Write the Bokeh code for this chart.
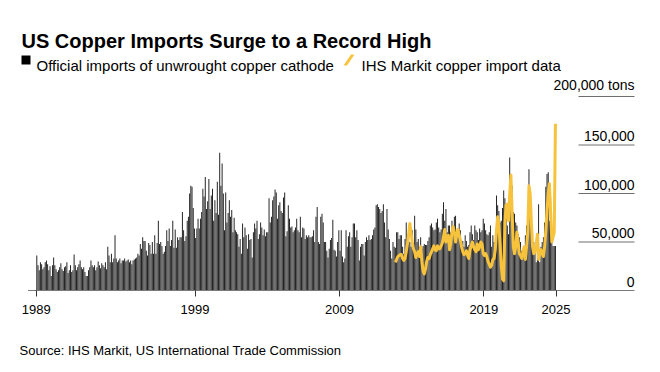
from bokeh.plotting import figure
from bokeh.models import Label, BoxAnnotation, PolyAnnotation, FixedTicker, Range1d, ColumnDataSource
from bokeh.embed import file_html
from bokeh.resources import INLINE

# ---------------- data (thousand tons, monthly) ----------------
official_1989 = [36, 26, 21, 29, 27, 22, 24, 29, 31, 27, 21, 25]
official_1990 = [15, 26, 34, 26, 22, 19, 21, 24, 28, 22, 20, 24]
official_1991 = [25, 29, 18, 21, 26, 19, 21, 37, 26, 21, 24, 27]
official_1992 = [31, 24, 22, 24, 19, 15, 15, 21, 24, 31, 26, 24]
official_1993 = [26, 21, 24, 30, 26, 23, 28, 26, 24, 29, 22, 45]
official_1994 = [36, 29, 38, 29, 33, 57, 33, 29, 31, 33, 28, 31]
official_1995 = [31, 33, 30, 31, 32, 29, 31, 27, 31, 32, 33, 34]
official_1996 = [38, 36, 48, 43, 55, 51, 51, 41, 36, 49, 47, 38]
official_1997 = [50, 38, 57, 38, 49, 72, 48, 50, 46, 38, 40, 46]
official_1998 = [62, 51, 64, 46, 52, 72, 44, 63, 44, 55, 52, 55]
official_1999 = [55, 81, 62, 51, 56, 72, 76, 100, 108, 107, 85, 64]
official_2000 = [54, 64, 74, 64, 74, 81, 105, 97, 117, 84, 92, 115]
official_2001 = [84, 98, 105, 72, 93, 80, 112, 78, 142, 108, 131, 100]
official_2002 = [62, 101, 70, 80, 93, 76, 83, 60, 75, 62, 60, 58]
official_2003 = [45, 53, 38, 69, 55, 65, 57, 43, 58, 52, 53, 34]
official_2004 = [60, 69, 64, 72, 53, 58, 70, 65, 57, 63, 56, 60]
official_2005 = [60, 95, 70, 76, 93, 97, 104, 101, 74, 88, 91, 82]
official_2006 = [80, 96, 101, 56, 61, 88, 74, 65, 66, 60, 62, 65]
official_2007 = [74, 62, 60, 76, 55, 65, 64, 53, 57, 55, 57, 55]
official_2008 = [55, 56, 62, 50, 76, 86, 50, 48, 76, 79, 70, 50]
official_2009 = [50, 41, 34, 43, 52, 54, 73, 42, 41, 35, 50, 62]
official_2010 = [41, 62, 35, 29, 33, 62, 45, 56, 60, 45, 55, 69]
official_2011 = [69, 55, 62, 52, 31, 45, 48, 48, 36, 50, 55, 52]
official_2012 = [57, 52, 53, 57, 63, 65, 88, 89, 86, 84, 80, 82]
official_2013 = [89, 70, 55, 84, 63, 53, 41, 33, 50, 45, 44, 60]
official_2014 = [60, 53, 57, 57, 45, 38, 53, 70, 45, 62, 50, 45]
official_2015 = [62, 45, 77, 63, 50, 53, 45, 55, 43, 46, 48, 47]
official_2016 = [47, 51, 55, 67, 69, 65, 62, 63, 70, 74, 65, 60]
official_2017 = [63, 79, 91, 72, 84, 60, 67, 67, 60, 72, 60, 76]
official_2018 = [77, 55, 60, 69, 62, 52, 51, 45, 57, 51, 45, 47]
official_2019 = [60, 67, 58, 52, 67, 62, 60, 52, 64, 60, 62, 74]
official_2020 = [69, 62, 58, 57, 60, 67, 45, 57, 50, 46, 98, 88]
official_2021 = [82, 70, 72, 85, 103, 95, 89, 67, 58, 137, 120, 108]
official_2022 = [81, 79, 70, 67, 58, 55, 50, 41, 38, 45, 57, 67]
official_2023 = [67, 125, 86, 74, 60, 50, 41, 29, 45, 89, 29, 45]
official_2024 = [50, 55, 70, 107, 120, 122, 72, 96, 50, 46, 46, 46]

OFFICIAL_START = 1989  # first month: Jan 1989
official = (official_1989 + official_1990 + official_1991 + official_1992 + official_1993
            + official_1994 + official_1995 + official_1996 + official_1997 + official_1998
            + official_1999 + official_2000 + official_2001 + official_2002 + official_2003
            + official_2004 + official_2005 + official_2006 + official_2007 + official_2008
            + official_2009 + official_2010 + official_2011 + official_2012 + official_2013
            + official_2014 + official_2015 + official_2016 + official_2017 + official_2018
            + official_2019 + official_2020 + official_2021 + official_2022 + official_2023
            + official_2024)

ihs_2013 = [29, 32]  # Nov, Dec 2013
ihs_2014 = [35, 36, 37, 37, 33, 31, 33, 40, 48, 58, 69, 60]
ihs_2015 = [50, 43, 40, 34, 38, 40, 35, 45, 30, 20, 17, 22]
ihs_2016 = [30, 34, 33, 37, 40, 43, 46, 42, 41, 46, 43, 43]
ihs_2017 = [46, 49, 55, 63, 50, 55, 57, 42, 48, 60, 66, 60]
ihs_2018 = [50, 58, 63, 57, 52, 45, 40, 37, 38, 41, 36, 33]
ihs_2019 = [42, 46, 50, 45, 42, 40, 48, 42, 45, 50, 48, 38]
ihs_2020 = [36, 38, 35, 30, 27, 24, 26, 32, 33, 42, 62, 76]
ihs_2021 = [68, 48, 25, 12, 10, 70, 88, 89, 72, 100, 119, 80]
ihs_2022 = [45, 38, 45, 60, 50, 38, 36, 33, 40, 45, 32, 45]
ihs_2023 = [60, 108, 100, 70, 45, 38, 40, 48, 58, 32, 38, 42]
ihs_2024 = [38, 35, 45, 62, 82, 100, 110, 80, 50, 55, 60, 172]
IHS_START = 2013 + 10 / 12  # Nov 2013
ihs = (ihs_2013 + ihs_2014 + ihs_2015 + ihs_2016 + ihs_2017 + ihs_2018
       + ihs_2019 + ihs_2020 + ihs_2021 + ihs_2022 + ihs_2023 + ihs_2024)

x_tick_pos = [1989, 2000, 2010, 2020, 2025]
x_tick_labels = ["1989", "1999", "2009", "2019", "2025"]
y_ticks = [0, 50000, 100000, 150000, 200000]
y_tick_labels = ["0", "50,000", "100,000", "150,000", "200,000 tons"]

TITLE = "US Copper Imports Surge to a Record High"
LEG1 = "Official imports of unwrought copper cathode"
LEG2 = "IHS Markit copper import data"
SOURCE = "Source: IHS Markit, US International Trade Commission"

# ---------------- layout (pixels of the 660x372 page) ----------------
W, H = 660, 372
BASE_Y = 290            # pixel row of the zero line
FONT = "Liberation Sans"
BAR_COLOR = "#1e1e1e"
YELLOW = "#F8C33C"

px_per_year = 14.44
px_per_ton = 48.5 / 50000
x0 = 1989 - 35.7 / px_per_year          # data x at the left canvas edge
x1 = x0 + W / px_per_year               # data x at the right canvas edge
y0 = -(H - BASE_Y) / px_per_ton         # data y at the bottom canvas edge
y1 = BASE_Y / px_per_ton                # data y at the top canvas edge

def px_to_x(px):
    return x0 + px / px_per_year

def sy(py):  # screen y (measured up from the bottom of the frame = canvas)
    return H - py

p = figure(width=W, height=H, output_backend="svg", toolbar_location=None,
           x_range=Range1d(x0, x1), y_range=Range1d(y0, y1),
           y_axis_location=None,
           min_border_left=0, min_border_right=0,
           min_border_top=0, min_border_bottom=0)
p.outline_line_color = None
p.grid.visible = False
p.background_fill_color = "white"
p.border_fill_color = "white"

bx = [OFFICIAL_START + (i + 0.5) / 12 for i in range(len(official))]
src = ColumnDataSource(dict(x=bx, top=[v * 1000 for v in official]))
p.vbar(x="x", top="top", width=0.8 / 12, bottom=0, source=src,
       fill_color=BAR_COLOR, line_color=None)

lx = [IHS_START + (i + 0.5) / 12 for i in range(len(ihs))]
p.line(lx, [v * 1000 for v in ihs], line_color=YELLOW, line_width=3, line_join="round")

axis_x0, axis_x1 = px_to_x(27.5), px_to_x(634)
grid_x0 = px_to_x(578)
# baseline
p.segment(x0=[axis_x0], x1=[axis_x1], y0=[0], y1=[0], line_color="#7a7a7a", line_width=1.2)
# short gridlines under right-side labels
for t in y_ticks[1:]:
    p.segment(x0=[grid_x0], x1=[axis_x1], y0=[t], y1=[t], line_color="#6e6e6e", line_width=1)

for t, lab in zip(y_ticks, y_tick_labels):
    p.add_layout(Label(x=axis_x1, y=t, text=lab, text_align="right", text_baseline="bottom",
                       y_offset=4, text_font=FONT, text_font_size="14px", text_color="#000000"))

# x axis drawn at y = 0 inside the full-canvas frame
ax = p.xaxis[0]
ax.fixed_location = 0
ax.ticker = FixedTicker(ticks=x_tick_pos)
ax.major_label_overrides = {k: v for k, v in zip(x_tick_pos, x_tick_labels)}
ax.axis_line_color = None
ax.major_tick_line_color = "#333333"
ax.major_tick_out = 6
ax.major_tick_in = 0
ax.minor_tick_line_color = None
ax.major_label_text_font = FONT
ax.major_label_text_font_size = "13px"
ax.major_label_text_color = "#000000"
ax.major_label_standoff = 8

# title, legend, source
p.add_layout(Label(x=21, y=sy(40), x_units="screen", y_units="screen", text=TITLE,
                   text_font=FONT, text_font_style="bold", text_font_size="20px",
                   text_color="#000000", text_baseline="alphabetic"))
p.add_layout(BoxAnnotation(left=21, right=30, bottom=sy(64), top=sy(55),
                           left_units="screen", right_units="screen",
                           bottom_units="screen", top_units="screen",
                           fill_color="#000000", fill_alpha=1, line_color=None))
p.add_layout(Label(x=36, y=sy(65), x_units="screen", y_units="screen", text=LEG1,
                   text_font=FONT, text_font_size="15px", text_color="#000000",
                   text_baseline="alphabetic"))
p.add_layout(PolyAnnotation(xs=[343, 346.5, 354, 350.5], ys=[sy(65), sy(65), sy(54), sy(54)],
                            xs_units="screen", ys_units="screen",
                            fill_color=YELLOW, fill_alpha=1, line_color=None))
p.add_layout(Label(x=361, y=sy(65), x_units="screen", y_units="screen", text=LEG2,
                   text_font=FONT, text_font_size="15px", text_color="#000000",
                   text_baseline="alphabetic"))
p.add_layout(Label(x=19, y=sy(350), x_units="screen", y_units="screen", text=SOURCE,
                   text_font=FONT, text_font_size="13px", text_color="#000000",
                   text_baseline="middle"))

open("out.html", "w").write(file_html(p, INLINE))
